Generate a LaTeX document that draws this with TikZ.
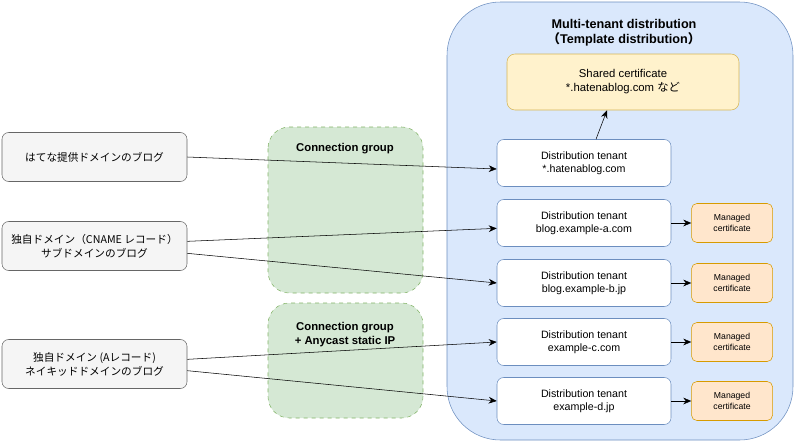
\documentclass[tikz,border=0pt]{standalone}
\usepackage{fontspec}
\setmainfont{Liberation Sans}
\newfontfamily\jp{Noto Sans CJK JP}
\usetikzlibrary{arrows.meta}
\definecolor{grpfill}{HTML}{D5E8D4}
\definecolor{grpdraw}{HTML}{82B366}
\definecolor{distfill}{HTML}{DAE8FC}
\definecolor{distdraw}{HTML}{6C8EBF}
\definecolor{sharefill}{HTML}{FFF2CC}
\definecolor{sharedraw}{HTML}{D6B656}
\definecolor{mgdfill}{HTML}{FFE6CC}
\definecolor{mgddraw}{HTML}{D79B00}
\definecolor{srcfill}{HTML}{F5F5F5}
\definecolor{srcdraw}{HTML}{666666}

\tikzset{
  src/.style={draw=srcdraw, fill=srcfill, rounded corners=5pt, minimum width=138.75pt, minimum height=36.75pt, align=center, font=\jp\fontsize{8}{10.5}\selectfont},
  tenant/.style={draw=distdraw, fill=white, rounded corners=5pt, minimum width=130.5pt, minimum height=35.25pt, align=center, font=\fontsize{8}{10}\selectfont},
  mgd/.style={draw=mgddraw, fill=mgdfill, rounded corners=4pt, minimum width=60.75pt, minimum height=29.25pt, align=center, font=\fontsize{6.5}{8}\selectfont},
  conn/.style={-{Stealth[length=6pt,width=5pt]}, black},
  ttl/.style={font=\bfseries\fontsize{8.5}{10.5}\selectfont, align=center}
}

\begin{document}
\begin{tikzpicture}[x=0.75pt, y=-0.75pt]
    \useasboundingbox (0,0) rectangle (800,443);

    % groups
    \filldraw[fill=distfill, draw=distdraw, rounded corners=40pt] (447,2) rectangle (793,440);
    \node[ttl, font=\bfseries\fontsize{9.5}{11.5}\selectfont] (mtitle) at (624,33) {Multi-tenant distribution\\{\jp （}Template distribution{\jp ）}};
    \filldraw[fill=grpfill, draw=grpdraw, dashed, rounded corners=16pt] (268,127) rectangle (423,293);
    \node[ttl] (g1) at (345,149) {Connection group};
    \filldraw[fill=grpfill, draw=grpdraw, dashed, rounded corners=16pt] (268,303) rectangle (423,418);
    \node[ttl] (g2) at (345,335) {Connection group\\+ Anycast static IP};

    % certificates
    \node[draw=sharedraw, fill=sharefill, rounded corners=6pt, minimum width=174pt, minimum height=42pt, align=center, font=\fontsize{8.5}{10.5}\selectfont] (shared) at (623,82) {Shared certificate\\*.hatenablog.com {\jp など}};

    % tenants
    \node[tenant] (t1) at (584,163) {Distribution tenant\\*.hatenablog.com};
    \node[tenant] (t2) at (584,223) {Distribution tenant\\blog.example-a.com};
    \node[tenant] (t3) at (584,283) {Distribution tenant\\blog.example-b.jp};
    \node[tenant] (t4) at (584,342) {Distribution tenant\\example-c.com};
    \node[tenant] (t5) at (584,401) {Distribution tenant\\example-d.jp};

    \foreach \i in {2,...,5} {
        \node[mgd, anchor=west] (m\i) at ([xshift=15pt]t\i.east) {Managed\\certificate};
        \draw[conn] (t\i) -- (m\i);
    }

    % sources
    \node[src] (s1) at (94.5,157) {はてな提供ドメインのブログ};
    \node[src] (s2) at (94.5,246) {独自ドメイン（CNAME レコード）\\サブドメインのブログ};
    \node[src] (s3) at (94.5,364) {独自ドメイン (Aレコード)\\ネイキッドドメインのブログ};

    \draw[conn] (s1.east) -- ([yshift=-4.5pt]t1.west);
    \draw[conn] ([yshift=3.5pt]s2.east) -- ([yshift=-4pt]t2.west);
    \draw[conn] ([yshift=-5.5pt]s2.east) -- (t3.west);
    \draw[conn] ([yshift=3.5pt]s3.east) -- (t4.west);
    \draw[conn] ([yshift=-5pt]s3.east) -- (t5.west);
    \draw[conn] ([xshift=9pt]t1.north) -- ([xshift=-12pt]shared.south);

\end{tikzpicture}
\end{document}
